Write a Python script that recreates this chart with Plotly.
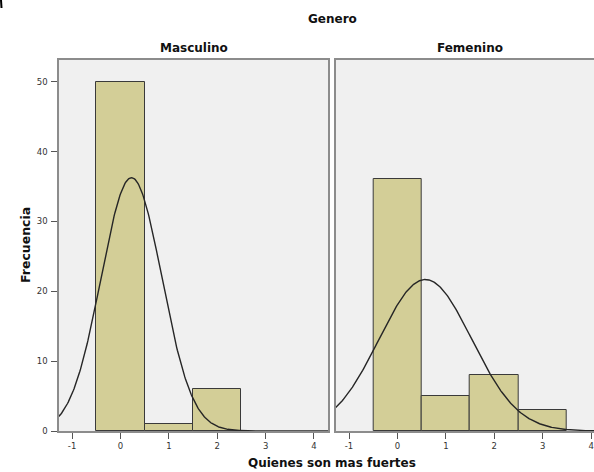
import numpy as np
import plotly.graph_objects as go

# ---- data ----
categories = [0, 1, 2, 3]
masculino_counts = [50, 1, 6, 0]
femenino_counts = [36, 5, 8, 3]
panel_titles = ["Masculino", "Femenino"]
x_tick_vals = [-1, 0, 1, 2, 3, 4]
x_tick_labels = ["-1", "0", "1", "2", "3", "4"]
y_tick_vals = [0, 10, 20, 30, 40, 50]
y_tick_labels = ["0", "10", "20", "30", "40", "50"]

W, H = 594, 472
ML, MR, MT, MB = 59, 0, 60, 41
PW, PH = W - ML - MR, H - MT - MB


def px_x(px):
    return (px - ML) / PW


def px_y(py):
    return (H - MB - py) / PH


def normal_curve(cats, counts, xs):
    c = np.array(cats, float)
    n = np.array(counts, float)
    N = n.sum()
    mu = (c * n).sum() / N
    sd = np.sqrt(((c - mu) ** 2 * n).sum() / (N - 1))
    return N * np.exp(-0.5 * ((xs - mu) / sd) ** 2) / (sd * np.sqrt(2 * np.pi))


BAR = "#d3ce97"
BG = "#f0f0f0"
BORDER = "#8c8c8c"
FONT = "DejaVu Sans"

fig = go.Figure()
xs = np.linspace(-1.5, 4.5, 400)

for i, counts in enumerate([masculino_counts, femenino_counts]):
    xa = "x" if i == 0 else "x2"
    ya = "y" if i == 0 else "y2"
    line_w = [1 if v > 0 else 0 for v in counts]
    fig.add_trace(go.Bar(x=categories, y=counts, width=1,
                         marker=dict(color=BAR, line=dict(color="#3a3a3a", width=line_w)),
                         xaxis=xa, yaxis=ya, showlegend=False, hoverinfo="skip"))
    fig.add_trace(go.Scatter(x=xs, y=normal_curve(categories, counts, xs), mode="lines",
                             line=dict(color="#262626", width=1.4),
                             xaxis=xa, yaxis=ya, showlegend=False, hoverinfo="skip"))

axis_common = dict(showgrid=False, zeroline=False, showline=True, linecolor=BORDER,
                   linewidth=1.5, ticks="outside", ticklen=6, tickcolor="#555",
                   tickfont=dict(family=FONT, size=8.5, color="#333"))

fig.update_layout(
    width=W, height=H,
    margin=dict(l=ML, r=MR, t=MT, b=MB),
    paper_bgcolor="white", plot_bgcolor=BG,
    bargap=0,
    xaxis=dict(domain=[0, px_x(328)], range=[-1.27, 4.29], tickvals=x_tick_vals,
               ticktext=x_tick_labels, mirror=True, anchor="y", **axis_common),
    yaxis=dict(domain=[0, 1], range=[0, 53.1], tickvals=y_tick_vals,
               ticktext=y_tick_labels, mirror=True,
               anchor="x", ticklabelstandoff=2, **axis_common),
    xaxis2=dict(domain=[px_x(335.7), 1], range=[-1.275, 4.06], tickvals=x_tick_vals,
                ticktext=x_tick_labels, mirror=True, anchor="y2", **axis_common),
    yaxis2=dict(domain=[0, 1], range=[0, 53.1], anchor="x2", showgrid=False,
                zeroline=False, showline=True, linecolor=BORDER, linewidth=1.5,
                showticklabels=False, ticks=""),
)

title_font = dict(family=FONT, size=12, color="#111")
ann = [
    dict(text="<b>Genero</b>", x=px_x(332), y=px_y(19)),
    dict(text="<b>" + panel_titles[0] + "</b>", x=px_x(193.5), y=px_y(48)),
    dict(text="<b>" + panel_titles[1] + "</b>", x=px_x(470), y=px_y(48)),
    dict(text="<b>Quienes son mas fuertes</b>", x=px_x(332), y=px_y(463)),
]
for a in ann:
    fig.add_annotation(xref="paper", yref="paper", showarrow=False,
                       xanchor="center", yanchor="middle", font=title_font, **a)
fig.add_annotation(text="<b>Frecuencia</b>", xref="paper", yref="paper",
                   x=px_x(25), y=px_y(245), showarrow=False, textangle=-90,
                   xanchor="center", yanchor="middle",
                   font=dict(family=FONT, size=12.5, color="#111"))

# small mark at the top-left corner of the original image
fig.add_shape(type="line", xref="paper", yref="paper",
              x0=px_x(1), x1=px_x(1.5), y0=px_y(0), y1=px_y(8),
              line=dict(color="black", width=2))

fig.write_html("out.html", config={"displayModeBar": False},
               post_script="document.body.style.margin='0';"
                           "document.body.style.overflow='hidden';")
